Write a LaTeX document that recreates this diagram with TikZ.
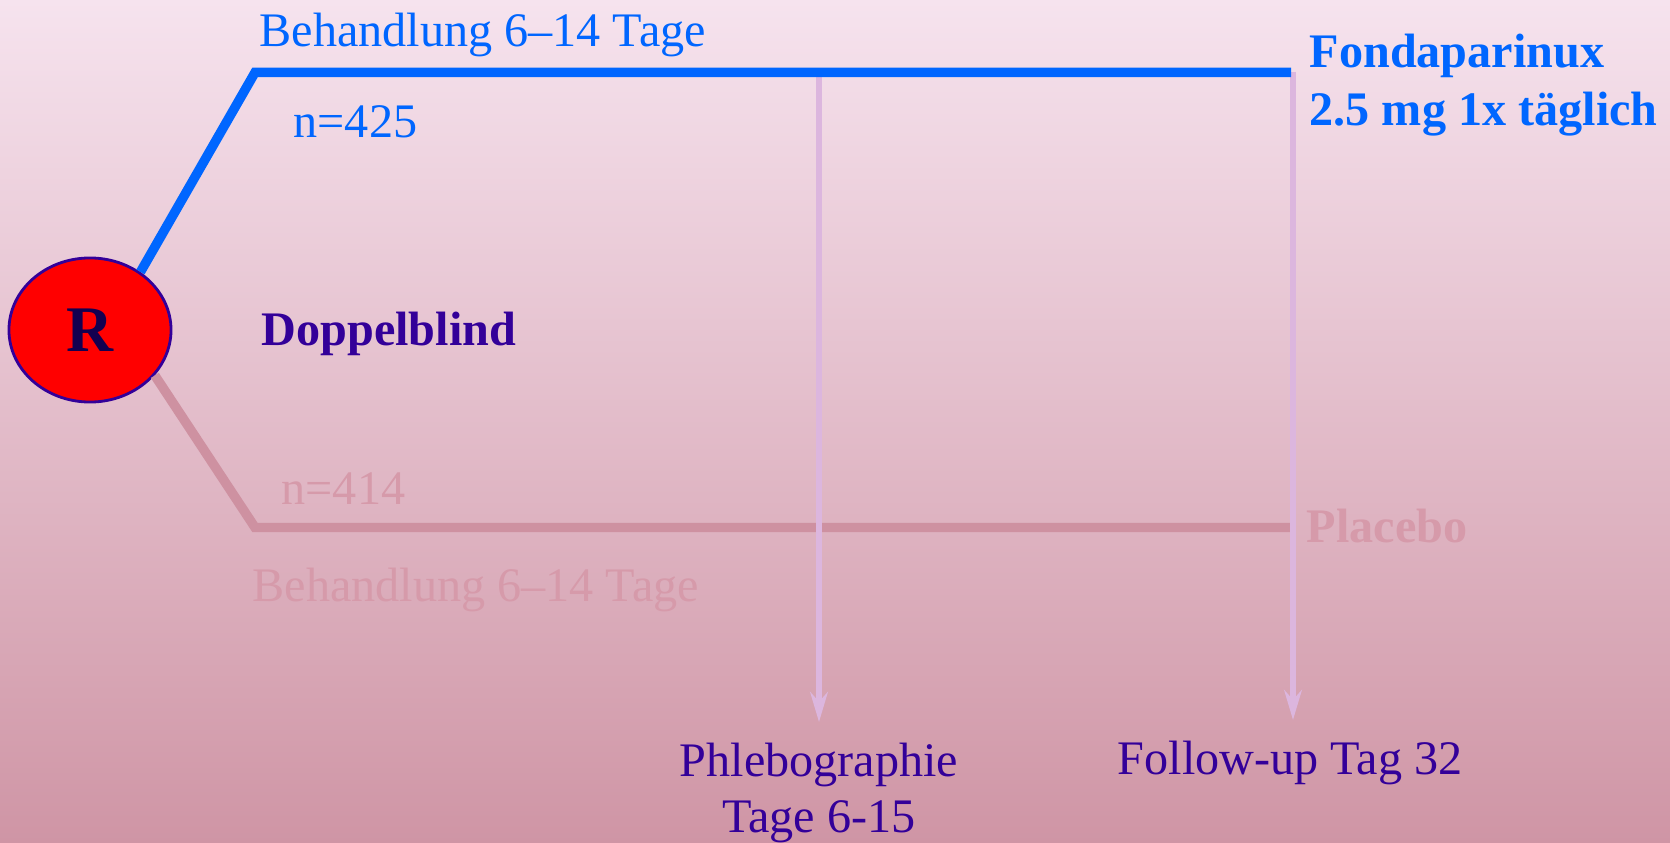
\documentclass[tikz,border=0pt]{standalone}
\usepackage{fontspec}
\setmainfont{Liberation Serif}
\usetikzlibrary{shapes.geometric, arrows.meta, positioning}

\definecolor{armblue}{RGB}{0,102,255}
\definecolor{armpink}{RGB}{206,145,161}
\definecolor{txtpink}{RGB}{214,154,170}
\definecolor{visit}{RGB}{220,182,222}
\definecolor{darkviolet}{RGB}{51,0,153}
\definecolor{rletter}{RGB}{20,0,80}
\definecolor{bgtop}{RGB}{246,227,238}
\definecolor{bgmid}{RGB}{235,205,218}
\definecolor{bgbottom}{RGB}{207,149,165}

\begin{document}
\begin{tikzpicture}[
    x=0.01cm, y=-0.01cm,
    txt/.style={inner sep=0pt, font=\fontsize{13.7}{15.9}\selectfont},
    boldtxt/.style={inner sep=0pt, font=\fontsize{13.7}{15.9}\selectfont\bfseries},
    visitlabel/.style={txt, darkviolet, align=center, anchor=north, outer sep=6pt},
    arm/.style={draw, line width=2.7pt, line join=miter},
    visitline/.style={draw, visit, line width=1.5pt, -{Stealth[length=8.5pt, width=5pt]}}
]

\shade [top color=bgtop, middle color=bgmid, bottom color=bgbottom] (0,0) rectangle (1670,843);
\useasboundingbox (0,0) rectangle (1670,843);

\node [ellipse, draw=darkviolet, line width=0.8pt, fill=red, minimum width=1.62cm, minimum height=1.44cm,
       text=rletter, font=\fontsize{18.5}{20}\selectfont\bfseries] (rand) at (90,330) {R};

\coordinate (tl) at (255,72.5);
\coordinate (tr) at (1291,72.5);
\coordinate (bl) at (255,527.5);
\coordinate (br) at (1291,527.5);
\coordinate (phtop) at (819,72);
\coordinate (futop) at (1293,72);

\node [txt, armblue, anchor=base west] (behtop) at (259,47) {Behandlung 6--14 Tage};
\node [txt, armblue, anchor=base west] (ntop) at (293,138) {n=425};
\node [boldtxt, darkviolet, anchor=base west] (blind) at (261,346) {Doppelblind};
\node [txt, txtpink, anchor=base west] (nbot) at (281,504) {n=414};
\node [txt, txtpink, anchor=base west] (behbot) at (252,601) {Behandlung 6--14 Tage};
\node [boldtxt, armblue, anchor=base west] (fonda) at (1309,68) {Fondaparinux};
\node [boldtxt, armblue, anchor=base west] (dose) at (1309,126) {2.5 mg 1x täglich};
\node [boldtxt, txtpink, anchor=base west] (placebo) at (1306,542) {Placebo};
\node [visitlabel] (phlebo) at (819,722) {Phlebographie\\Tage 6-15};
\node [visitlabel] (followup) at (1290,720) {Follow-up Tag 32};

\path [arm, armpink] (rand.-35) -- (bl) -- (br);
\path [visitline] (phtop) -- (phlebo);
\path [visitline] (futop) -- (futop |- followup.north);
\path [arm, armblue] (rand.49) -- (tl) -- (tr);
\end{tikzpicture}
\end{document}
